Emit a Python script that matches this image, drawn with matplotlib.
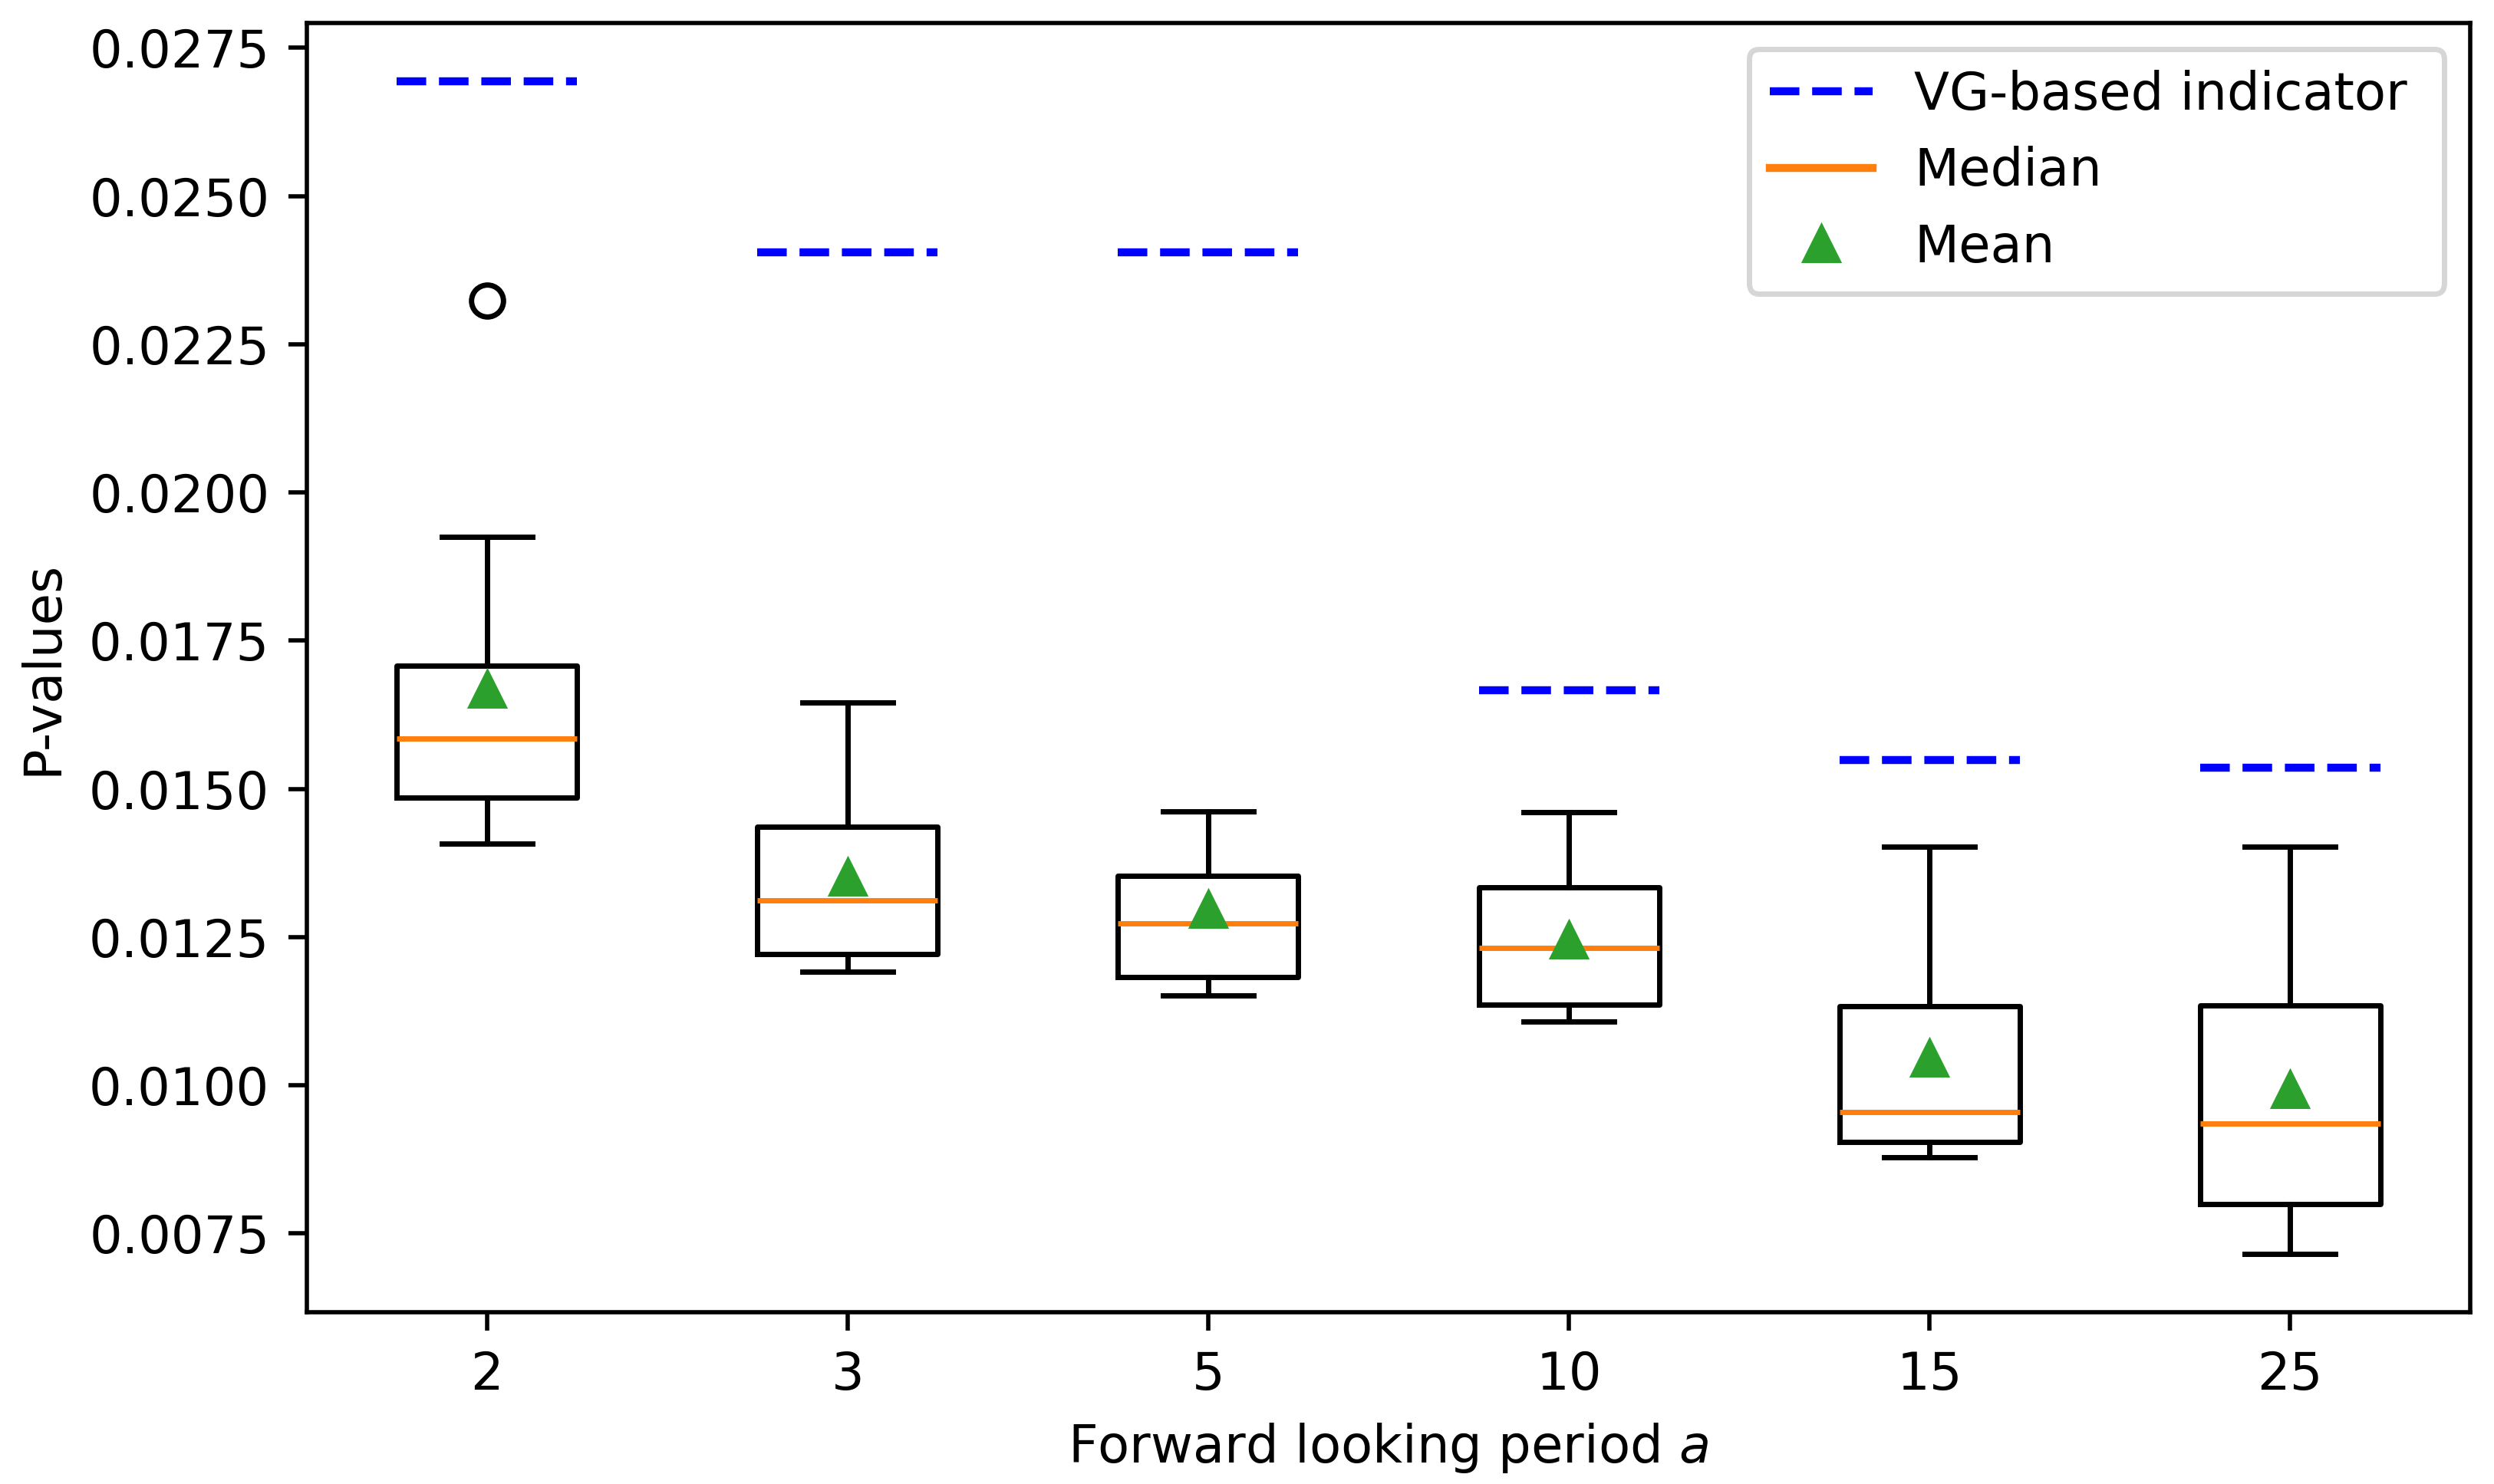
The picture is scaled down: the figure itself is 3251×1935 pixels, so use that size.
import matplotlib
matplotlib.use("Agg")
import matplotlib.pyplot as plt
from matplotlib.lines import Line2D

plt.rcParams["font.size"] = 9.7

# Forward looking periods (x categories)
periods = ["2", "3", "5", "10", "15", "25"]

# Box statistics of the p-values
whislo = [0.01407, 0.01192, 0.01152, 0.01107, 0.00878, 0.00716]
q1 = [0.01485, 0.01221, 0.01183, 0.01136, 0.00904, 0.00799]
med = [0.01585, 0.01312, 0.01273, 0.01231, 0.00955, 0.00935]
q3 = [0.01708, 0.01436, 0.01353, 0.01334, 0.01133, 0.01135]
whishi = [0.01925, 0.01646, 0.01462, 0.01461, 0.01403, 0.01403]
means = [0.01668, 0.01351, 0.01296, 0.01244, 0.01045, 0.00992]
fliers = [[0.02323], [], [], [], [], []]

# VG-based indicator p-values
vg = [0.02693, 0.02405, 0.02405, 0.01666, 0.01549, 0.01536]

stats = []
for i, lab in enumerate(periods):
    stats.append({
        "label": lab,
        "whislo": whislo[i],
        "q1": q1[i],
        "med": med[i],
        "q3": q3[i],
        "whishi": whishi[i],
        "mean": means[i],
        "fliers": fliers[i],
    })

fig, ax = plt.subplots(figsize=(6.502, 3.87))
fig.subplots_adjust(left=0.123, right=0.9905, bottom=0.1158, top=0.9845)

ax.bxp(stats, showmeans=True)

positions = range(1, len(periods) + 1)
for p, v in zip(positions, vg):
    ax.plot([p - 0.25, p + 0.25], [v, v], "b--", linewidth=1.5)

ax.set_xlabel("Forward looking period $a$")
ax.set_ylabel("P-values")

handles = [
    Line2D([], [], color="b", linestyle="--", linewidth=1.5),
    Line2D([], [], color="C1"),
    Line2D([], [], color="C2", marker="^", linestyle="none"),
]
# trailing space leaves a little more room on the right, as in the original
ax.legend(handles, ["VG-based indicator ", "Median", "Mean"], loc="upper right")

fig.savefig("out.png", dpi=500)
